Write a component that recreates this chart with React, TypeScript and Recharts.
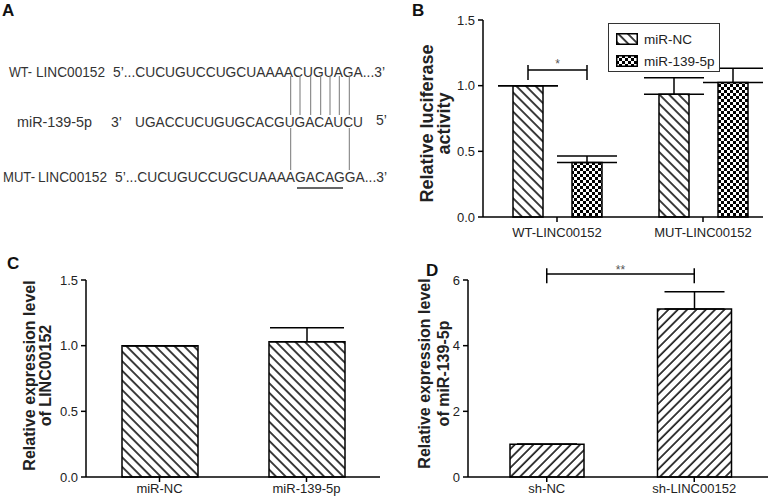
import React from "react";
import { Bar, BarChart, ErrorBar, LabelList, Legend, ReferenceLine, XAxis, YAxis } from "recharts";

const FONT = '"Liberation Sans", Arial, Helvetica, sans-serif';

// B: luciferase reporter
const luciferaseGroups = ["WT-LINC00152", "MUT-LINC00152"];
const luciferaseSeries = ["miR-NC", "miR-139-5p"];
const luciferaseNC = [1.0, 0.935];
const luciferaseNCErr = [0, 0.125];
const luciferase139 = [0.415, 1.025];
const luciferase139Err = [0.05, 0.107];

// C: LINC00152 level
const lincGroups = ["miR-NC", "miR-139-5p"];
const lincLevel = [1.0, 1.03];
const lincErr = [0, 0.107];

// D: miR-139-5p level
const mirGroups = ["sh-NC", "sh-LINC00152"];
const mirLevel = [1.0, 5.12];
const mirErr = [0, 0.52];

const ticksFrac = [0, 0.5, 1.0, 1.5];
const ticksInt = [0, 2, 4, 6];

// A: sequences
const wtSeq = "5\u2019...CUCUGUCCUGCUAAAACUGUAGA...3\u2019";
const mirSeq = "UGACCUCUGUGCACGUGACAUCU";
const mutSeq = "5\u2019...CUCUGUCCUGCUAAAAGACAGGA...3\u2019";

const dataB = luciferaseGroups.map((name, i) => ({
  name,
  nc: luciferaseNC[i],
  ncErr: [0, luciferaseNCErr[i]],
  p139: luciferase139[i],
  p139Err: [0, luciferase139Err[i]],
}));
const dataC = lincGroups.map((name, i) => ({ name, v: lincLevel[i], err: [0, lincErr[i]] }));
const dataD = mirGroups.map((name, i) => ({ name, v: mirLevel[i], err: [0, mirErr[i]] }));

const BAR_GAP_B = 29;
const SIG_B = 1.12;

const axisLine = { stroke: "#000", strokeWidth: 1.5 };
const tickStyle = { fontSize: 13, fill: "#222", fontFamily: FONT };
const fmt1 = (v: number) => v.toFixed(1);

const yLabel = (lines: string[], dx: number[], dy: number, size: number) => (props: any) => {
  const vb = props.viewBox || {};
  const axisX = vb.x + vb.width;
  const cy = vb.y + vb.height / 2 + dy;
  return (
    <g>
      {lines.map((t, i) => (
        <text
          key={t}
          transform={`translate(${axisX + dx[i]},${cy}) rotate(-90)`}
          textAnchor="middle"
          dominantBaseline="central"
          fontWeight="bold"
          fontSize={size}
          fontFamily={FONT}
          fill="#222"
        >
          {t}
        </text>
      ))}
    </g>
  );
};

// bracket between the two WT bars, built from the first bar's geometry
const bracketB = (props: any) => {
  const { index, value } = props;
  if (!(index === 0 || (index === undefined && value === luciferaseNC[0]))) return null;
  const vb = props.viewBox || props;
  const { x, y, width, height } = vb;
  const ppu = height / value;
  const base = y + height;
  const x1 = x + width / 2;
  const x2 = x1 + width + BAR_GAP_B;
  const yb = base - SIG_B * ppu;
  return (
    <g>
      <g stroke="#000" strokeWidth={1.5}>
        <line x1={x1} x2={x2} y1={yb} y2={yb} />
        <line x1={x1} x2={x1} y1={yb - 5} y2={yb + 10} />
        <line x1={x2} x2={x2} y1={yb - 5} y2={yb + 10} />
      </g>
      <text x={(x1 + x2) / 2} y={yb - 2} textAnchor="middle" fontSize={12} fill="#555" fontFamily={FONT}>
        *
      </text>
    </g>
  );
};

const legendB = (props: any) => {
  const payload = [...(props.payload || [])].sort(
    (a: any, b: any) => luciferaseSeries.indexOf(a.value) - luciferaseSeries.indexOf(b.value)
  );
  return (
    <div
      style={{
        border: "1px solid #333",
        width: 112,
        height: 49,
        boxSizing: "border-box",
        background: "#fff",
        fontFamily: FONT,
        fontSize: 13.5,
        color: "#222",
        paddingTop: 6,
      }}
    >
      {payload.map((p: any) => (
        <div key={p.value} style={{ display: "flex", alignItems: "center", height: 18, marginBottom: 4, paddingLeft: 7 }}>
          <svg width={22} height={12} style={{ marginRight: 6 }}>
            <rect x={0.75} y={0.75} width={20.5} height={10.5} fill={p.color} stroke="#000" strokeWidth={1.5} />
          </svg>
          <span>{p.value}</span>
        </div>
      ))}
    </div>
  );
};

function Patterns() {
  return (
    <svg width={0} height={0} style={{ position: "absolute" }}>
      <defs>
        <pattern id="hatchBack" patternUnits="userSpaceOnUse" width={6.8} height={10} patternTransform="rotate(-45)">
          <rect width={6.8} height={10} fill="#fff" />
          <line x1={1} y1={0} x2={1} y2={10} stroke="#000" strokeWidth={1.5} />
        </pattern>
        <pattern id="hatchFwd" patternUnits="userSpaceOnUse" width={6.6} height={10} patternTransform="rotate(45)">
          <rect width={6.6} height={10} fill="#fff" />
          <line x1={1} y1={0} x2={1} y2={10} stroke="#000" strokeWidth={1.5} />
        </pattern>
        <pattern id="checker" patternUnits="userSpaceOnUse" width={6} height={6}>
          <rect width={6} height={6} fill="#fff" />
          <rect x={0} y={0} width={3} height={3} fill="#000" />
          <rect x={3} y={3} width={3} height={3} fill="#000" />
        </pattern>
      </defs>
    </svg>
  );
}

function PanelA() {
  const seqFont = { fontFamily: FONT, fontSize: 14, fill: "#333" };
  const upper = [290.7, 300, 310.7, 320.7, 330, 339.3, 349.3];
  const lower = [290.7, 349.3];
  return (
    <g>
      <g {...seqFont}>
        <text x={9} y={77} textLength={23} lengthAdjust="spacingAndGlyphs">WT-</text>
        <text x={36} y={77} textLength={69} lengthAdjust="spacingAndGlyphs">LINC00152</text>
        <text x={113} y={77} textLength={272} lengthAdjust="spacingAndGlyphs">{wtSeq}</text>
        <text x={17} y={127} textLength={75} lengthAdjust="spacingAndGlyphs">miR-139-5p</text>
        <text x={111} y={127}>3{"\u2019"}</text>
        <text x={135} y={127} textLength={228} lengthAdjust="spacingAndGlyphs">{mirSeq}</text>
        <text x={376} y={125}>5{"\u2019"}</text>
        <text x={3} y={182} textLength={32} lengthAdjust="spacingAndGlyphs">MUT-</text>
        <text x={38} y={182} textLength={69} lengthAdjust="spacingAndGlyphs">LINC00152</text>
        <text x={115} y={182} textLength={272} lengthAdjust="spacingAndGlyphs">{mutSeq}</text>
      </g>
      <g stroke="#777" strokeWidth={1}>
        {upper.map((x) => (
          <line key={"u" + x} x1={x} x2={x} y1={76} y2={115} />
        ))}
        {lower.map((x) => (
          <line key={"l" + x} x1={x} x2={x} y1={128} y2={170} />
        ))}
      </g>
      <line x1={297} x2={343} y1={188} y2={188} stroke="#333" strokeWidth={1.5} />
    </g>
  );
}

export default function App() {
  return (
    <div style={{ position: "absolute", left: 0, top: 0, width: 779, height: 500, background: "#fff" }}>
      <Patterns />

      <div style={{ position: "absolute", left: 400, top: 0 }}>
        <BarChart width={379} height={250} data={dataB} margin={{ top: 20, right: 16, bottom: 0, left: 43 }} barGap={BAR_GAP_B}>
          <XAxis
            dataKey="name"
            height={33}
            axisLine={axisLine}
            tickLine={{ stroke: "#000", strokeWidth: 1.5 }}
            tickSize={5}
            tickMargin={6}
            tick={tickStyle}
            padding={{ left: 1, right: -13 }}
          />
          <YAxis
            width={40}
            domain={[0, 1.5]}
            ticks={ticksFrac}
            tickFormatter={fmt1}
            axisLine={axisLine}
            tickLine={{ stroke: "#000", strokeWidth: 1.5 }}
            tickSize={5}
            tickMargin={3}
            tick={tickStyle}
            label={yLabel(["Relative luciferase", "activity"], [-56, -39], 5, 18)}
          />
          <Legend
            layout="vertical"
            align="center"
            verticalAlign="middle"
            content={legendB}
            wrapperStyle={{ left: 208, top: 23, width: 112 }}
          />
          <Bar dataKey="nc" name={luciferaseSeries[0]} barSize={30} fill="url(#hatchBack)" stroke="#000" strokeWidth={1.5} isAnimationActive={false}>
            <ErrorBar dataKey="ncErr" width={30} stroke="#000" strokeWidth={1.5} />
            <LabelList dataKey="nc" content={bracketB} />
          </Bar>
          <Bar dataKey="p139" name={luciferaseSeries[1]} barSize={30} fill="url(#checker)" stroke="#000" strokeWidth={1.5} isAnimationActive={false}>
            <ErrorBar dataKey="p139Err" width={30} stroke="#000" strokeWidth={1.5} />
          </Bar>
        </BarChart>
      </div>

      <div style={{ position: "absolute", left: 0, top: 250 }}>
        <BarChart width={400} height={250} data={dataC} margin={{ top: 30, right: 20, bottom: 0, left: 50 }}>
          <XAxis
            dataKey="name"
            height={23}
            axisLine={axisLine}
            tickLine={{ stroke: "#000", strokeWidth: 1.5 }}
            tickSize={5}
            tickMargin={2}
            tick={tickStyle}
          />
          <YAxis
            width={36}
            domain={[0, 1.5]}
            ticks={ticksFrac}
            tickFormatter={fmt1}
            axisLine={axisLine}
            tickLine={{ stroke: "#000", strokeWidth: 1.5 }}
            tickSize={5}
            tickMargin={3}
            tick={tickStyle}
            label={yLabel(["Relative expression level", "of LINC00152"], [-57, -41], -3, 16)}
          />
          <Bar dataKey="v" barSize={76} fill="url(#hatchBack)" stroke="#000" strokeWidth={1.5} isAnimationActive={false}>
            <ErrorBar dataKey="err" width={37} stroke="#000" strokeWidth={1.5} />
          </Bar>
        </BarChart>
      </div>

      <div style={{ position: "absolute", left: 400, top: 250 }}>
        <BarChart width={379} height={250} data={dataD} margin={{ top: 30, right: 11, bottom: 0, left: 32 }}>
          <XAxis
            dataKey="name"
            height={23}
            axisLine={axisLine}
            tickLine={{ stroke: "#000", strokeWidth: 1.5 }}
            tickSize={5}
            tickMargin={2}
            tick={tickStyle}
            padding={{ left: 5, right: 0 }}
          />
          <YAxis
            width={36}
            domain={[0, 6]}
            ticks={ticksInt}
            axisLine={axisLine}
            tickLine={{ stroke: "#000", strokeWidth: 1.5 }}
            tickSize={5}
            tickMargin={3}
            tick={tickStyle}
            label={yLabel(["Relative expression level", "of miR-139-5p"], [-44, -25], -5, 16)}
          />
          <Bar dataKey="v" barSize={74} fill="url(#hatchFwd)" stroke="#000" strokeWidth={1.5} isAnimationActive={false}>
            <ErrorBar dataKey="err" width={30} stroke="#000" strokeWidth={1.5} />
          </Bar>
          <ReferenceLine
            segment={[{ x: mirGroups[0], y: 6.18 }, { x: mirGroups[1], y: 6.18 }]}
            stroke="#000"
            strokeWidth={1.5}
            ifOverflow="visible"
            label={{ value: "**", position: "top", offset: 0, fill: "#555", fontSize: 12, fontFamily: FONT }}
          />
          <ReferenceLine
            segment={[{ x: mirGroups[0], y: 6.36 }, { x: mirGroups[0], y: 5.9 }]}
            stroke="#000"
            strokeWidth={1.5}
            ifOverflow="visible"
          />
          <ReferenceLine
            segment={[{ x: mirGroups[1], y: 6.36 }, { x: mirGroups[1], y: 5.9 }]}
            stroke="#000"
            strokeWidth={1.5}
            ifOverflow="visible"
          />
        </BarChart>
      </div>

      <svg width={779} height={500} style={{ position: "absolute", left: 0, top: 0, pointerEvents: "none" }}>
        <PanelA />
        <g fontFamily={FONT} fontWeight="bold" fontSize={17} fill="#111">
          <text x={2} y={16}>A</text>
          <text x={412} y={16}>B</text>
          <text x={7} y={269}>C</text>
          <text x={426} y={276}>D</text>
        </g>
      </svg>
    </div>
  );
}
